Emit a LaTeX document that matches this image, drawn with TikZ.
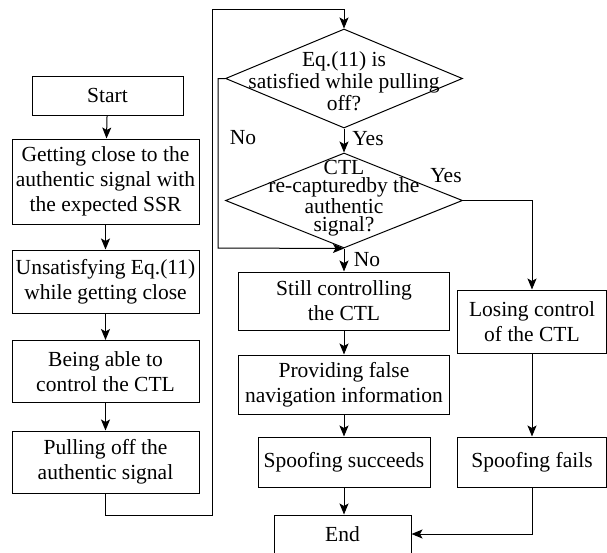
\documentclass[tikz,border=0pt]{standalone}
\usepackage{fontspec}
\setmainfont{Liberation Serif}
\usetikzlibrary{shapes.geometric,arrows.meta}
\begin{document}
\begin{tikzpicture}[x=1pt,y=-1pt,
  box/.style={draw,line width=1pt,inner sep=0pt,align=center,font=\fontsize{21.5}{25}\selectfont},
  dia/.style={draw,diamond,line width=1pt,inner sep=0pt},
  dtext/.style={align=center,inner sep=0pt},
  arr/.style={line width=1pt,-{Stealth[length=11pt,width=9pt,inset=2.5pt]}},
  lbl/.style={font=\fontsize{21.5}{25}\selectfont,inner sep=0pt}]
\useasboundingbox (0,0) rectangle (607,552);
% left column
\node[box,minimum width=151pt,minimum height=39pt] (start) at (107.5,95.5) {Start};
\node[box,minimum width=187pt,minimum height=85pt] (b2) at (105.5,181.5) {Getting close to the\\authentic signal with\\the expected SSR};
\node[box,minimum width=187pt,minimum height=63pt] (b3) at (105.5,281.5) {Unsatisfying Eq.(11)\\while getting close};
\node[box,minimum width=187pt,minimum height=62pt] (b4) at (105.5,371.5) {Being able to\\control the CTL};
\node[box,minimum width=187pt,minimum height=62pt] (b5) at (105.5,462) {Pulling off the\\authentic signal};
% diamonds
\node[dia,minimum width=237pt,minimum height=99pt] (d1) at (344,78.5) {};
\node[dtext,font=\fontsize{21.5}{22}\selectfont] (d1t) at (344,81.5) {Eq.(11) is\\satisfied while pulling\\off?};
\node[dia,minimum width=237pt,minimum height=95pt] (d2) at (344,200.5) {};
\node[dtext,font=\fontsize{21.5}{18}\selectfont] (d2t) at (344,198) {CTL\\re-capturedby the\\authentic\\signal?};
% middle column
\node[box,minimum width=211pt,minimum height=58pt] (s1) at (344,301) {Still controlling\\the CTL};
\node[box,minimum width=211pt,minimum height=59pt] (s2) at (344,384.5) {Providing false\\navigation information};
\node[box,minimum width=172pt,minimum height=50pt] (s3) at (344,462) {Spoofing succeeds};
\node[box,minimum width=137pt,minimum height=38pt] (end) at (342.5,534) {End};
% right column
\node[box,minimum width=149pt,minimum height=63pt] (l1) at (532,321.5) {Losing control\\of the CTL};
\node[box,minimum width=149pt,minimum height=50pt] (l2) at (532,462) {Spoofing fails};
% connectors
\draw[arr] (start) -- (b2);
\draw[arr] (b2) -- (b3);
\draw[arr] (b3) -- (b4);
\draw[arr] (b4) -- (b5);
\coordinate (c1) at (105.5,515);
\coordinate (c2) at (212,515);
\coordinate (c3) at (212,9);
\draw[arr] (b5.south) -- (c1) -- (c2) -- (c3) -| (d1.north);
\coordinate (n1) at (218,78.5);
\coordinate (n2) at (218,248);
\draw[arr] (d1.west) -- (n1) -- (n2) -- (d2.south);
\draw[arr] (d1.south) -- (d2.north);
\draw[arr] (d2.east) -| (l1.north);
\draw[arr] (d2.south) -- (s1.north);
\draw[arr] (s1) -- (s2);
\draw[arr] (s2) -- (s3);
\draw[arr] (s3.south) -- (s3.south |- end.north);
\draw[arr] (l1) -- (l2);
\draw[arr] (l2.south) |- (end.east);
% labels
\node[lbl] (no1) at (243,138) {No};
\node[lbl] (yes1) at (368,139) {Yes};
\node[lbl] (yes2) at (446,176) {Yes};
\node[lbl] (no2) at (367,260) {No};
\end{tikzpicture}
\end{document}
